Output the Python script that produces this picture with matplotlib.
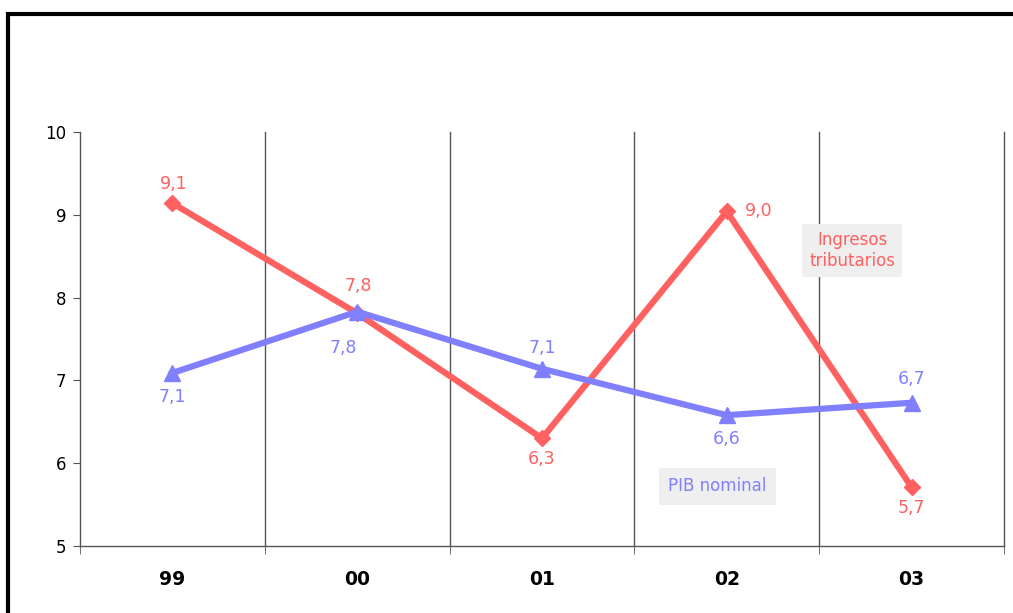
import matplotlib.pyplot as plt
from matplotlib.patches import Rectangle

# data
years = ['99', '00', '01', '02', '03']
ingresos = [9.14, 7.81, 6.30, 9.04, 5.71]
pib = [7.09, 7.83, 7.14, 6.58, 6.73]

RED = '#FF6060'
BLUE = '#8080FF'
GRID = '#555555'

def fmt(v):
    return ('%.1f' % v).replace('.', ',')

fig = plt.figure(figsize=(10.13, 6.13), dpi=100)
ax = fig.add_axes([80/1013, 1 - 546/613, 924/1013, 414/613])

x = list(range(len(years)))
ax.plot(x, ingresos, color=RED, lw=4.5, marker='D', ms=8, zorder=3)
ax.plot(x, pib, color=BLUE, lw=4.5, marker='^', ms=11, zorder=4)

# data labels: (dx, dy) offsets in points
red_off = [(1, 14), (1, 20), (0, -15), (23, 0), (0, -15)]
blue_off = [(0, -17), (-10, -26), (0, 15), (0, -17), (0, 17)]
for i, v in enumerate(ingresos):
    ax.annotate(fmt(v), (i, v), xytext=red_off[i], textcoords='offset points',
                ha='center', va='center', color=RED, fontsize=12.5)
for i, v in enumerate(pib):
    ax.annotate(fmt(v), (i, v), xytext=blue_off[i], textcoords='offset points',
                ha='center', va='center', color=BLUE, fontsize=12.5)

ax.set_xlim(-0.5, len(years) - 0.5)
ax.set_ylim(5, 10)
ax.set_yticks([5, 6, 7, 8, 9, 10])
ax.tick_params(axis='y', labelsize=12, length=5, color=GRID, pad=5)
ax.set_xticks(x)
ax.set_xticklabels(years, fontsize=13.5, fontweight='bold')
ax.tick_params(axis='x', which='major', length=0, pad=17)
bounds = [i + 0.5 for i in range(-1, len(years))]
ax.set_xticks(bounds, minor=True)
ax.tick_params(axis='x', which='minor', length=6, color=GRID)
for b in bounds[1:]:
    ax.axvline(b, color=GRID, lw=1, clip_on=False, zorder=1)

for s in ['top', 'right']:
    ax.spines[s].set_visible(False)
for s in ['left', 'bottom']:
    ax.spines[s].set_color(GRID)
    ax.spines[s].set_linewidth(1)

ax.text(3.68, 8.57, 'Ingresos\ntributarios', color=RED, fontsize=12, ha='center', va='center',
        linespacing=1.25, bbox=dict(facecolor='#EFEFEF', edgecolor='none', pad=5), zorder=5)
ax.text(2.95, 5.72, 'PIB nominal', color=BLUE, fontsize=12, ha='center', va='center',
        bbox=dict(facecolor='#EFEFEF', edgecolor='none', pad=7), zorder=5)

# outer frame
fig.patches.append(Rectangle((8/1013, -0.1), 1.2, 1 - 14/613 + 0.1, transform=fig.transFigure,
                             fill=False, edgecolor='black', lw=3))

fig.savefig('out.png', dpi=100)
